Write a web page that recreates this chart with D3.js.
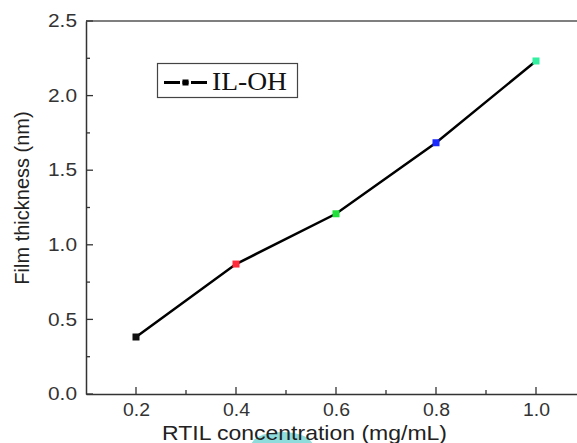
<!DOCTYPE html>
<html>
<head>
<meta charset="utf-8">
<script src="https://cdn.jsdelivr.net/npm/d3@7"></script>
<style>
body { margin: 0; background: #fff; }
svg { display: block; }
</style>
</head>
<body>
<div id="chart"></div>
<script>
// values
var concentrations = [0.2, 0.4, 0.6, 0.8, 1.0];
var thickness = [0.382, 0.871, 1.208, 1.684, 2.232];
var pointColors = ["#111111", "#ff2a3a", "#22e03a", "#1a2aff", "#33f0a0"];
var xTicks = [0.2, 0.4, 0.6, 0.8, 1.0];
var yTicks = [0.0, 0.5, 1.0, 1.5, 2.0, 2.5];
var seriesName = "IL-OH";

var W = 577, H = 443;
var margin = {top: 21, left: 86, bottom: 49, right: -9};

var svg = d3.select("#chart").append("svg")
	.attr("width", W)
	.attr("height", H);

var x = d3.scaleLinear()
	.domain([0.1, 1.1])
	.range([margin.left, W - margin.right]);

var y = d3.scaleLinear()
	.domain([0, 2.5])
	.range([H - margin.bottom, margin.top]);

var sans = "Liberation Sans, Arial, sans-serif";

// the cyan smudge under the x title
svg.append("ellipse")
	.attr("cx", 282).attr("cy", 446)
	.attr("rx", 31).attr("ry", 14)
	.attr("fill", "#8fdcdc");

// frame top
svg.append("line")
	.attr("x1", x(0.1)).attr("x2", W)
	.attr("y1", y(2.5)).attr("y2", y(2.5))
	.attr("stroke", "#555").attr("stroke-width", 1.5);

/**  axes  **/
var xAxis = d3.axisBottom(x).tickValues(xTicks).tickSize(0).tickFormat(d3.format(".1f")).tickPadding(10);
var gx = svg.append("g")
	.attr("transform", "translate(0," + y(0) + ")")
	.call(xAxis);
gx.select(".domain").attr("stroke", "#333").attr("stroke-width", 1.5);
gx.selectAll("text").attr("font-family", sans)
	.attr("font-size", 17.5).attr("fill", "#333")
	.attr("textLength", 27).attr("lengthAdjust", "spacingAndGlyphs");

// inward ticks on x
var xMinor = [0.3, 0.5, 0.7, 0.9];
svg.selectAll(".xmaj").data(xTicks).enter().append("line")
	.attr("x1", function(d) { return x(d) }).attr("x2", function(d) { return x(d) })
	.attr("y1", y(0)).attr("y2", y(0) - 7)
	.attr("stroke", "#333").attr("stroke-width", 1.3);
svg.selectAll(".xmin").data(xMinor).enter().append("line")
	.attr("x1", function(d) { return x(d) }).attr("x2", function(d) { return x(d) })
	.attr("y1", y(0)).attr("y2", y(0) - 4)
	.attr("stroke", "#333").attr("stroke-width", 1.3);

var yAxis = d3.axisLeft(y).tickValues(yTicks).tickSize(0).tickFormat(d3.format(".1f")).tickPadding(9);
var gy = svg.append("g")
	.attr("transform", "translate(" + x(0.1) + ",0)")
	.call(yAxis);
gy.select(".domain").attr("stroke", "#333").attr("stroke-width", 1.5);
gy.selectAll("text").attr("font-family", sans)
	.attr("font-size", 17.5).attr("fill", "#333")
	.attr("textLength", 29).attr("lengthAdjust", "spacingAndGlyphs");

var yMinor = [0.25, 0.75, 1.25, 1.75, 2.25];
svg.selectAll(".ymaj").data(yTicks).enter().append("line")
	.attr("x1", x(0.1)).attr("x2", x(0.1) + 7)
	.attr("y1", function(d) { return y(d) }).attr("y2", function(d) { return y(d) })
	.attr("stroke", "#333").attr("stroke-width", 1.3);
svg.selectAll(".ymin").data(yMinor).enter().append("line")
	.attr("x1", x(0.1)).attr("x2", x(0.1) + 4)
	.attr("y1", function(d) { return y(d) }).attr("y2", function(d) { return y(d) })
	.attr("stroke", "#333").attr("stroke-width", 1.3);

// axis titles
svg.append("text")
	.attr("x", 162).attr("y", 440)
	.attr("font-family", sans)
	.attr("font-size", 21).attr("fill", "#222")
	.attr("textLength", 285).attr("lengthAdjust", "spacingAndGlyphs")
	.text("RTIL concentration (mg/mL)");

svg.append("text")
	.attr("transform", "translate(29,198) rotate(-90)")
	.attr("text-anchor", "middle")
	.attr("font-family", sans)
	.attr("font-size", 20).attr("fill", "#222")
	.text("Film thickness (nm)");

/**  series  **/
var pts = concentrations.map(function(c, i) { return {x: c, y: thickness[i], color: pointColors[i]} });

var line = d3.line()
	.x(function(d) { return x(d.x) })
	.y(function(d) { return y(d.y) });

svg.append("path")
	.datum(pts)
	.attr("d", line)
	.attr("fill", "none")
	.attr("stroke", "#000")
	.attr("stroke-width", 2.5);

svg.selectAll(".pt").data(pts).enter().append("rect")
	.attr("x", function(d) { return x(d.x) - 3.5 })
	.attr("y", function(d) { return y(d.y) - 3.5 })
	.attr("width", 7).attr("height", 7)
	.attr("fill", function(d) { return d.color });

/**  legend  **/
var lg = svg.append("g");
lg.append("rect")
	.attr("x", 157.5).attr("y", 63.5)
	.attr("width", 140).attr("height", 34)
	.attr("fill", "#fff").attr("stroke", "#444").attr("stroke-width", 1.2);
lg.append("line")
	.attr("x1", 164).attr("x2", 207)
	.attr("y1", 82.5).attr("y2", 82.5)
	.attr("stroke", "#000").attr("stroke-width", 3)
	.attr("stroke-dasharray", "16,2.5,6,2.5,16");
lg.append("rect")
	.attr("x", 182.5).attr("y", 79.5).attr("width", 6).attr("height", 6)
	.attr("fill", "#000");
lg.append("text")
	.attr("x", 212).attr("y", 89.5)
	.attr("font-family", "Liberation Serif, Times New Roman, serif")
	.attr("font-size", 25).attr("fill", "#111")
	.attr("textLength", 75).attr("lengthAdjust", "spacingAndGlyphs")
	.text(seriesName);
</script>
</body>
</html>
